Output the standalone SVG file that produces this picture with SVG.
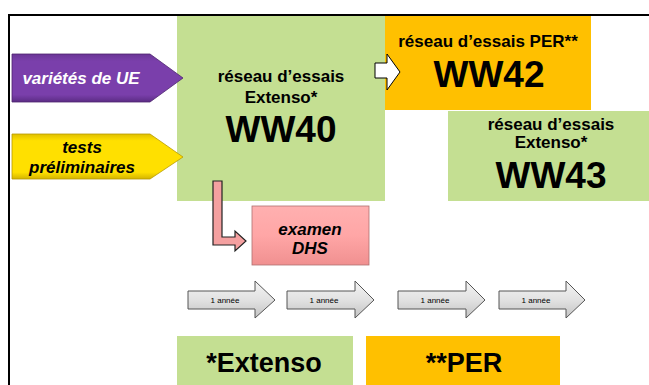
<svg xmlns="http://www.w3.org/2000/svg" width="649" height="385" viewBox="0 0 649 385">
<defs>
<linearGradient id="gy" x1="0" y1="0" x2="0" y2="1">
<stop offset="0" stop-color="#f4f4f4"/><stop offset="0.5" stop-color="#e2e2e2"/><stop offset="1" stop-color="#c4c4c4"/>
</linearGradient>
<linearGradient id="pu" x1="0" y1="0" x2="0" y2="1">
<stop offset="0" stop-color="#6a3596"/><stop offset="0.15" stop-color="#7a3fab"/><stop offset="0.85" stop-color="#7a3fab"/><stop offset="1" stop-color="#5b2c84"/>
</linearGradient>
<linearGradient id="ye" x1="0" y1="0" x2="0" y2="1">
<stop offset="0" stop-color="#e0c000"/><stop offset="0.15" stop-color="#ffe000"/><stop offset="0.85" stop-color="#ffe000"/><stop offset="1" stop-color="#d4b400"/>
</linearGradient>
<linearGradient id="pk" x1="0" y1="0" x2="0" y2="1">
<stop offset="0" stop-color="#ffb0b0"/><stop offset="0.5" stop-color="#ffa6a6"/><stop offset="1" stop-color="#f09090"/>
</linearGradient>
</defs>
<style>
.green{fill:#c4df92}
.orange{fill:#ffc000}
.t{font-family:"Liberation Sans",Arial,sans-serif;font-weight:bold;text-anchor:middle;fill:#000}
.s{font-size:17px}
.big{font-size:37px}
.it{font-style:italic;font-size:17px}
.yr{font-family:"Liberation Sans",Arial,sans-serif;font-size:8px;text-anchor:middle;fill:#000}
.garrow{fill:url(#gy);stroke:#555;stroke-width:1}
</style>
<rect width="649" height="385" fill="#fff"/>
<g id="frame">
<path d="M9 385 V15 H649" fill="none" stroke="#000" stroke-width="2"/>
</g>
<g id="ww40">
<rect class="green" x="177" y="16" width="208" height="185"/>
<text class="t s" x="281" y="82">réseau d’essais</text>
<text class="t s" x="281" y="103">Extenso*</text>
<text class="t big" x="281" y="142">WW40</text>
</g>
<g id="ww42">
<rect class="orange" x="385" y="16" width="206" height="94"/>
<text class="t s" x="488" y="47">réseau d’essais PER**</text>
<text class="t big" x="489" y="87">WW42</text>
</g>
<g id="ww43">
<rect class="green" x="448" y="111" width="201" height="90"/>
<text class="t s" x="551" y="130">réseau d’essais</text>
<text class="t s" x="551" y="148">Extenso*</text>
<text class="t big" x="551" y="188">WW43</text>
</g>
<g id="varietes">
<path d="M12 54 H150 L183 78 L150 102 H12 Z" fill="url(#pu)" stroke="#4e2570" stroke-width="0.8"/>
<text class="t it" x="81" y="84" style="fill:#fff">variétés de UE</text>
</g>
<g id="tests">
<path d="M12 134 H150 L183 157 L150 179 H12 Z" fill="url(#ye)" stroke="#b89a00" stroke-width="0.8"/>
<text class="t it" x="82" y="153">tests</text>
<text class="t it" x="82" y="173">préliminaires</text>
</g>
<g id="examen">
<rect x="252" y="206" width="117" height="59" fill="url(#pk)" stroke="#b07070" stroke-width="0.8"/>
<text class="t it" x="310" y="235">examen</text>
<text class="t it" x="310" y="254">DHS</text>
</g>
<g id="legend-extenso">
<rect class="green" x="177" y="336" width="176" height="49"/>
<text class="t" x="264" y="372" style="font-size:27px">*Extenso</text>
</g>
<g id="legend-per">
<rect class="orange" x="366" y="336" width="194" height="49"/>
<text class="t" x="464" y="372" style="font-size:27px">**PER</text>
</g>
<g id="connectors">
<path d="M375 63 H387 V54 L400 72 L387 90 V78 H375 Z" fill="#fff" stroke="#000" stroke-width="1"/>
<path d="M213 181 H222 V237 H235 V231 L246 241 L235 251 V245 H213 Z" fill="#f4a0a0" stroke="#222" stroke-width="1.2"/>
<g>
<path class="garrow" d="M188 291 H255 V281 L275 300 L255 318 V309 H188 Z"/>
<text class="yr" x="225" y="303">1 année</text>
</g>
<g>
<path class="garrow" d="M287 291 H355 V281 L374 300 L355 318 V309 H287 Z"/>
<text class="yr" x="324" y="303">1 année</text>
</g>
<g>
<path class="garrow" d="M398 291 H466 V281 L485 300 L466 318 V309 H398 Z"/>
<text class="yr" x="435" y="303">1 année</text>
</g>
<g>
<path class="garrow" d="M499 291 H566 V281 L585 300 L566 318 V309 H499 Z"/>
<text class="yr" x="536" y="303">1 année</text>
</g>
</g>
</svg>
